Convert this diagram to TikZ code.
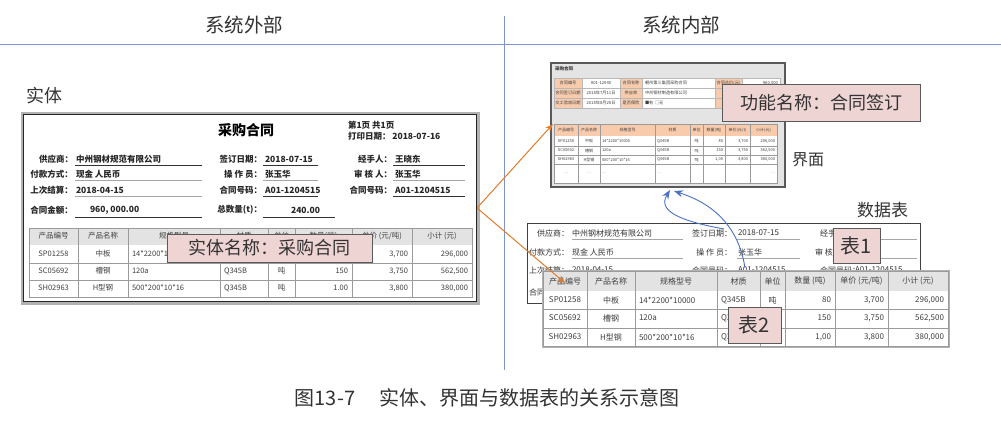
\documentclass[tikz,border=0pt]{standalone}
\usepackage{fontspec}
\setmainfont{Noto Sans CJK SC}
\usetikzlibrary{arrows.meta}
\definecolor{axisc}{HTML}{7F95C9}
\definecolor{ink}{HTML}{333333}
\definecolor{orng}{HTML}{E07B2B}
\definecolor{bluec}{HTML}{4A72C4}
\definecolor{pinkf}{HTML}{EFD4D4}
\definecolor{pinkd}{HTML}{5A5A5A}
\definecolor{hdrg}{HTML}{E3E3E3}
\definecolor{peach}{HTML}{F8CBAD}
\definecolor{ifbg}{HTML}{E4E4E4}
\definecolor{gridc}{HTML}{9A9A9A}
\newcommand{\fs}[1]{\fontsize{#1}{#1}\selectfont}
\newcommand{\settable}[9]{\def\tcA{#1}\def\tcB{#2}\def\tcC{#3}\def\tcD{#4}\def\tcE{#5}\def\tcF{#6}\def\tcG{#7}\def\tcH{#8}\def\tcI{#9}}
\newcommand{\tgrid}[4]{%
  \fill[white] (\tcA,#1) rectangle (\tcI,#3);
  \fill[fill=\thfill] (\tcA,#1) rectangle (\tcI,#2);
  \foreach \gy in {#4} {\draw[gridl] (\tcA,\gy) -- (\tcI,\gy);}
  \foreach \gx in {\tcB,\tcC,\tcD,\tcE,\tcF,\tcG,\tcH} {\draw[gridl] (\gx,#1) -- (\gx,#3);}
  \draw[gridl] (\tcA,#1) rectangle (\tcI,#3);}
\newcommand{\thdr}[8]{%
  \node[cell,font=\tfont] (\tp-h-1) at ({(\tcA+\tcB)/2},\ty) {#1};
  \node[cell,font=\tfont] (\tp-h-2) at ({(\tcB+\tcC)/2},\ty) {#2};
  \node[cell,font=\tfont] (\tp-h-3) at ({(\tcC+\tcD)/2},\ty) {#3};
  \node[cell,font=\tfont] (\tp-h-4) at ({(\tcD+\tcE)/2},\ty) {#4};
  \node[cell,font=\tfont] (\tp-h-5) at ({(\tcE+\tcF)/2},\ty) {#5};
  \node[cell,font=\tfont] (\tp-h-6) at ({(\tcF+\tcG)/2},\ty) {#6};
  \node[cell,font=\tfont] (\tp-h-7) at ({(\tcG+\tcH)/2},\ty) {#7};
  \node[cell,font=\tfont] (\tp-h-8) at ({(\tcH+\tcI)/2},\ty) {#8};}
\newcommand{\trow}[9]{%
  \node[cell,font=\tfont] (\tp-#1-1) at ({(\tcA+\tcB)/2},\ty) {#2};
  \node[cell,font=\tfont] (\tp-#1-2) at ({(\tcB+\tcC)/2},\ty) {#3};
  \node[cell,font=\tfont,anchor=west] (\tp-#1-3) at ({\tcC+\tpad},\ty) {#4};
  \node[cell,font=\tfont,anchor=west] (\tp-#1-4) at ({\tcD+\tpad},\ty) {#5};
  \node[cell,font=\tfont] (\tp-#1-5) at ({(\tcE+\tcF)/2},\ty) {#6};
  \node[cell,font=\tfont,anchor=east] (\tp-#1-6) at ({\tcG-\tpad},\ty) {#7};
  \node[cell,font=\tfont,anchor=east] (\tp-#1-7) at ({\tcH-\tpad},\ty) {#8};
  \node[cell,font=\tfont,anchor=east] (\tp-#1-8) at ({\tcI-\tpad},\ty) {#9};}
\begin{document}
\begin{tikzpicture}[x=1pt,y=-1pt,
  lbl/.style={inner sep=0pt,outer sep=0pt,text=ink},
  lf/.style={inner sep=0pt,outer sep=0pt,text=black!85,font=\fs{8.5}\bfseries},
  tf/.style={inner sep=0pt,outer sep=0pt,text=black!80,font=\fs{8}},
  uf/.style={inner sep=0pt,outer sep=0pt,text=black!75,font=\fs{4.2}},
  cell/.style={inner sep=0pt,outer sep=0pt,text=black!75},
  callout/.style={draw=pinkd,fill=pinkf,line width=0.8pt,inner sep=0pt,text=ink},
  orarrow/.style={draw=orng,line width=1pt,-{Stealth[length=8pt,width=6pt]}},
  blarrow/.style={draw=bluec,line width=0.9pt,-{Stealth[length=9pt,width=7pt]}},
  uline/.style={draw=black!80,line width=0.7pt},
  ulight/.style={draw=black!35,line width=0.7pt},
  gridl/.style={draw=gridc,line width=0.5pt}]
\useasboundingbox[fill=white] (0,0) rectangle (1001,442);
% ---------------- headers
\node[lbl,font=\fs{19.5}] (hOut) at (244,25) {系统外部};
\node[lbl,font=\fs{19.5}] (hIn) at (681,25) {系统内部};
\coordinate (hl0) at (0,44); \coordinate (hl1) at (1001,44);
\draw[axisc,line width=0.9pt] (hl0) -- (hl1);
\coordinate (vl0) at (504,16); \coordinate (vl1) at (504,370);
\draw[axisc,line width=0.9pt] (vl0) -- (vl1);
% ---------------- entity document
\node[lbl,font=\fs{18},anchor=west] (shiti) at (27,96) {实体};
\node[draw=black!30,line width=3pt,minimum width=456pt,minimum height=190pt,inner sep=0pt] (docS) at (250,208) {};
\node[draw=black!85,fill=white,line width=1.1pt,minimum width=453pt,minimum height=187pt,inner sep=0pt] (doc) at (250,208) {};
\node[lbl,font=\fs{14}\bfseries,text=black] (docT) at (246,130) {采购合同};
\node[lf,anchor=west] (pg) at (348,125) {第1页 共1页};
\node[lf,anchor=west] (pd) at (348,136) {打印日期： 2018-07-16};
% row 1
\node[lf,anchor=east] (lA1) at (73,159) {供应商：};
\node[lf,anchor=west] (lB1) at (76,159) {中州钢材规范有限公司};
\node[lf,anchor=east] (lC1) at (262,159) {签订日期：};
\node[lf,anchor=west] (lD1) at (265,159) {2018-07-15};
\node[lf,anchor=east] (lE1) at (392,159) {经手人：};
\node[lf,anchor=west] (lF1) at (395,159) {王晓东};
% row 2
\node[lf,anchor=east] (lA2) at (73,174) {付款方式：};
\node[lf,anchor=west] (lB2) at (76,174) {现金 人民币};
\node[lf,anchor=east] (lC2) at (262,174) {操 作 员：};
\node[lf,anchor=west] (lD2) at (265,174) {张玉华};
\node[lf,anchor=east] (lE2) at (392,174) {审 核 人：};
\node[lf,anchor=west] (lF2) at (395,174) {张玉华};
% row 3
\node[lf,anchor=east] (lA3) at (73,190) {上次结算：};
\node[lf,anchor=west] (lB3) at (76,190) {2018-04-15};
\node[lf,anchor=east] (lC3) at (262,190) {合同号码：};
\node[lf,anchor=west] (lD3) at (265,190) {A01-1204515};
\node[lf,anchor=east] (lE3) at (392,190) {合同号码：};
\node[lf,anchor=west] (lF3) at (395,190) {A01-1204515};
% row 4
\node[lf,anchor=east] (lA4) at (73,210) {合同金额：};
\node[lf,anchor=west] (lB4) at (90,210) {960, 000.00};
\node[lf,anchor=east] (lC4) at (262,210) {总数量(t)：};
\node[lf,anchor=east] (lD4) at (320,210) {240.00};
% underlines
\draw[uline] (75,165) -- (202,165); \draw[uline] (263,165) -- (318,165); \draw[uline] (393,165) -- (465,165);
\draw[ulight] (75,180) -- (202,180); \draw[ulight] (263,180) -- (318,180); \draw[ulight] (393,180) -- (465,180);
\draw[ulight] (75,196) -- (202,196); \draw[uline] (263,196) -- (318,196); \draw[uline] (393,196) -- (465,196);
\draw[uline] (75,217) -- (202,217); \draw[uline] (263,217) -- (335,217);
% entity table
\settable{29}{78}{128}{220}{268}{295}{352}{412}{472}
\def\thfill{hdrg}\def\tp{L}\def\tfont{\fs{7.5}}\def\tpad{4}
\tgrid{228}{245}{297}{263,280}
\def\ty{236}\thdr{产品编号}{产品名称}{规格型号}{材质}{单位}{数量(吨)}{单价 (元/吨)}{小计 (元)}
\def\ty{254}\trow{r1}{SP01258}{中板}{14*2200*10000}{Q345B}{吨}{80}{3,700}{296,000}
\def\ty{271}\trow{r2}{SC05692}{槽钢}{120a}{Q345B}{吨}{150}{3,750}{562,500}
\def\ty{288}\trow{r3}{SH02963}{H型钢}{500*200*10*16}{Q345B}{吨}{1.00}{3,800}{380,000}
\node[callout,font=\fs{18},minimum width=205pt,minimum height=28pt] (cEnt) at (269.5,248) {实体名称：采购合同};
% ---------------- interface
\node[draw=black!65,fill=ifbg,line width=1.4pt,minimum width=234pt,minimum height=124pt,inner sep=0pt] (ui) at (668,125) {};
\node[lbl,font=\fs{4.5}\bfseries,anchor=west] (uiT) at (555,69) {采购合同};
\foreach \ya/\yb in {78/88,88/98,98/108} {
  \filldraw[fill=peach,draw=gridc!70,line width=0.3pt] (554,\ya) rectangle (582,\yb);
  \filldraw[fill=white,draw=gridc!70,line width=0.3pt] (582,\ya) rectangle (620,\yb);
  \filldraw[fill=peach,draw=gridc!70,line width=0.3pt] (620,\ya) rectangle (642,\yb);
  \filldraw[fill=white,draw=gridc!70,line width=0.3pt] (642,\ya) rectangle (715,\yb);
  \filldraw[fill=peach,draw=gridc!70,line width=0.3pt] (715,\ya) rectangle (742,\yb);
  \filldraw[fill=white,draw=gridc!70,line width=0.3pt] (742,\ya) rectangle (780,\yb);
}
\node[uf] (f11) at (568,83) {合同编号};
\node[uf] (f12) at (601,83) {A01-12040};
\node[uf] (f13) at (631,83) {合同名称};
\node[uf,anchor=west] (f14) at (645,83) {朝州第三集团采购合同};
\node[uf] (f15) at (728.5,83) {合同总价(元)};
\node[uf,anchor=east] (f16) at (778,83) {960,000};
\node[uf] (f21) at (568,93) {合同签订日期};
\node[uf] (f22) at (601,93) {2018年7月11日};
\node[uf] (f23) at (631,93) {供应商};
\node[uf,anchor=west] (f24) at (645,93) {中州钢材制造有限公司};
\node[uf] (f31) at (568,103) {交工验收日期};
\node[uf] (f32) at (601,103) {2018年8月28日};
\node[uf] (f33) at (631,103) {是否保险};
\node[uf,anchor=west] (f34) at (645,103) {■有 \,□无};
\settable{554}{578}{600}{655}{690}{703}{725}{750}{777}
\def\thfill{peach}\def\tp{U}\def\tfont{\fs{4}}\def\tpad{2}
\tgrid{124}{136}{183}{146,155,164}
\def\ty{130}\thdr{产品编号}{产品名称}{规格型号}{材质}{单位}{数量(吨)}{单价(元/t)}{小计(元)}
\def\ty{141}\trow{r1}{SP01258}{中板}{14*2200*10000}{Q345B}{吨}{80}{3,700}{296,000}
\def\ty{150.5}\trow{r2}{SC05692}{槽钢}{120a}{Q345B}{吨}{150}{3,750}{562,500}
\def\ty{159.5}\trow{r3}{SH02963}{H型钢}{500*200*10*16}{Q345B}{吨}{1,00}{3,800}{380,000}
\def\ty{173.5}\trow{r4}{…}{…}{…}{…}{}{}{}{…}
\node[callout,font=\fs{18},minimum width=198pt,minimum height=37pt] (cFun) at (821,102.5) {功能名称：合同签订};
\node[lbl,font=\fs{16},anchor=west] (jm) at (792,160) {界面};
% ---------------- data tables
\node[lbl,font=\fs{17},anchor=west] (sjb) at (857,210) {数据表};
\node[draw=black!75,fill=white,line width=1pt,minimum width=393pt,minimum height=80pt,inner sep=0pt] (tb1) at (723.5,263) {};
\node[tf,anchor=east] (tA1) at (569,233) {供应商：};
\node[tf,anchor=west] (tB1) at (572,233) {中州钢材规范有限公司};
\node[tf,anchor=east] (tC1) at (732,233) {签订日期：};
\node[tf,anchor=west] (tD1) at (738,233) {2018-07-15};
\node[tf,anchor=west] (tE1) at (820,233) {经手人：};
\node[tf,anchor=east] (tA2) at (569,252) {付款方式：};
\node[tf,anchor=west] (tB2) at (572,252) {现金 人民币};
\node[tf,anchor=east] (tC2) at (732,252) {操 作 员：};
\node[tf,anchor=west] (tD2) at (738,252) {张玉华};
\node[tf,anchor=west] (tE2) at (815,252) {审 核 人：};
\node[tf,anchor=east] (tA3) at (569,270) {上次结算：};
\node[tf,anchor=west] (tB3) at (572,270) {2018-04-15};
\node[tf,anchor=east] (tC3) at (732,270) {合同号码：};
\node[tf,anchor=west] (tD3) at (738,270) {A01-1204515};
\node[tf,anchor=west] (tE3) at (820,270) {合同号码：};
\node[tf,anchor=west] (tF3) at (855,270) {A01-1204515};
\node[tf,anchor=west] (tA4) at (529,292) {合同金额：};
\draw[ulight] (572,239) -- (683,239); \draw[ulight] (737,239) -- (800,239); \draw[ulight] (862,239) -- (917,239);
\draw[ulight] (572,258) -- (683,258); \draw[ulight] (737,258) -- (800,258); \draw[ulight] (862,258) -- (917,258);
\node[callout,font=\fs{20},minimum width=47pt,minimum height=35pt] (cT1) at (856.5,245.5) {表1};
% table 2
\node[draw=black!30,line width=3pt,minimum width=405pt,minimum height=75pt,inner sep=0pt] (tb2) at (745.5,308.5) {};
\settable{543}{587}{635}{717}{760}{785}{835}{888}{948}
\def\thfill{hdrg}\def\tp{D}\def\tfont{\fs{8}}\def\tpad{4}
\tgrid{271}{291}{346}{309,328}
\def\ty{281}\thdr{产品编号}{产品名称}{规格型号}{材质}{单位}{数量 (吨)}{单价 (元/吨)}{小计 (元)}
\def\ty{300}\trow{r1}{SP01258}{中板}{14*2200*10000}{Q345B}{吨}{80}{3,700}{296,000}
\def\ty{318}\trow{r2}{SC05692}{槽钢}{120a}{Q345B}{吨}{150}{3,750}{562,500}
\def\ty{337}\trow{r3}{SH02963}{H型钢}{500*200*10*16}{Q345B}{吨}{1,00}{3,800}{380,000}
\node[callout,font=\fs{20},minimum width=53pt,minimum height=36pt] (cT2) at (754.5,325) {表2};
% ---------------- arrows
\coordinate (oa1) at (553,124);
\coordinate (oa2) at (565,283);
\draw[orarrow] (doc.east) -- (oa1);
\draw[orarrow] (doc.east) -- (oa2);
\coordinate (bsA) at (724,229);
\coordinate (beA) at (670,190);
\coordinate (bsB) at (745,268);
\coordinate (beB) at (674,191);
\draw[blarrow] (bsA) .. controls (692,223) and (655,214) .. (beA);
\draw[blarrow] (bsB) .. controls (738,222) and (708,202) .. (beB);
% ---------------- caption
\node[lbl,font=\fs{20}] (cap) at (487,398) {图13-7\hspace{1.2em}实体、界面与数据表的关系示意图};
\end{tikzpicture}
\end{document}
